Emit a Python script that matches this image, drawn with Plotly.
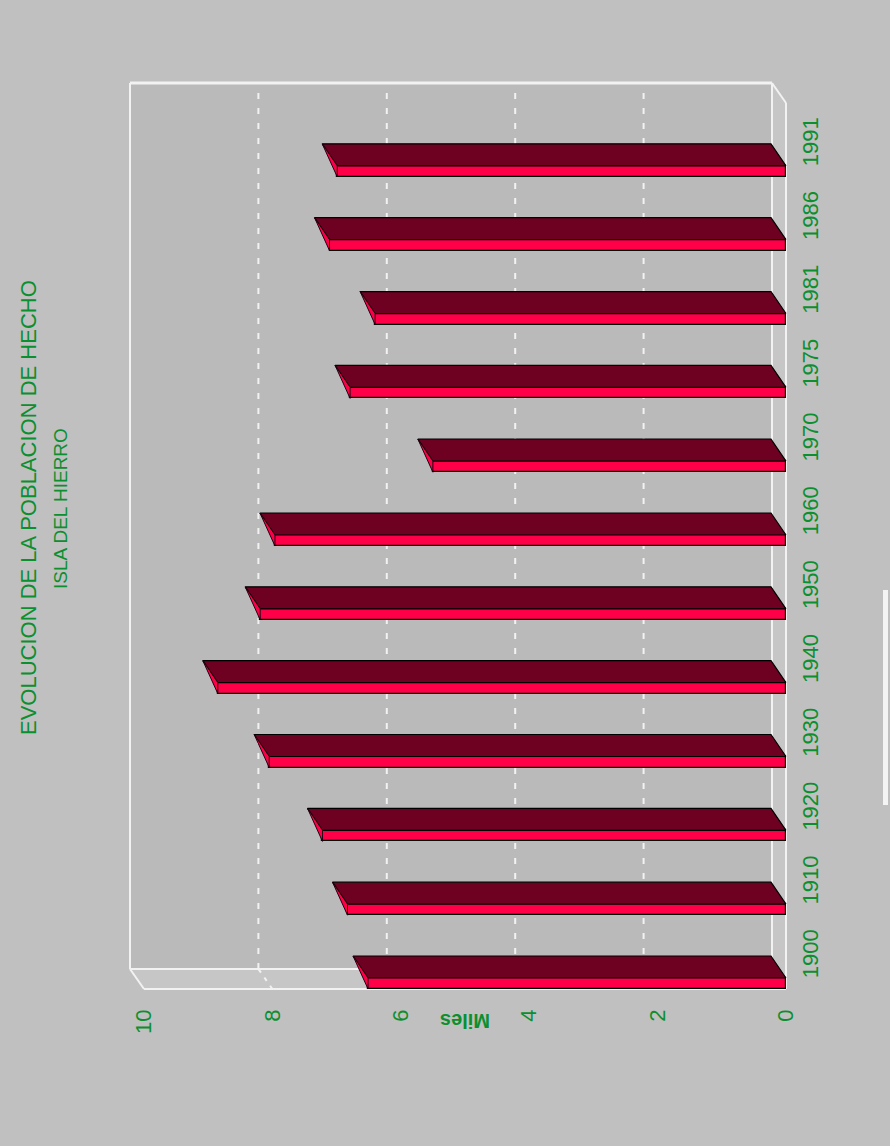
import plotly.graph_objects as go

# ---- data -------------------------------------------------------------
years = ["1900", "1910", "1920", "1930", "1940", "1950",
         "1960", "1970", "1975", "1981", "1986", "1991"]
miles = [6.51, 6.83, 7.22, 8.05, 8.85, 8.19, 7.96, 5.50, 6.79, 6.40, 7.11, 6.99]
value_ticks = [0, 2, 4, 6, 8, 10]
grid_values = [2, 4, 6, 8]
title_text = "EVOLUCION DE LA POBLACION DE HECHO"
subtitle_text = "ISLA DEL HIERRO"
value_axis_title = "Miles"

# ---- geometry (pixels) ------------------------------------------------
W, H = 890, 1146
L_PX, R_PX, T_PX, B_PX = 100, 790, 70, 1000      # plotting area
ZERO_PX = 786          # value 0 on the front plane
PX_PER_VAL = 64.2
FLOOR_PX = 989         # front edge of the category axis
PX_PER_CAT = 73.83

def val_from_px(px):
    return px / PX_PER_VAL

def cat_from_px(px):
    return px / PX_PER_CAT

x_range = [(ZERO_PX - L_PX) / PX_PER_VAL, (ZERO_PX - R_PX) / PX_PER_VAL]
y_range = [(FLOOR_PX - B_PX) / PX_PER_CAT, (FLOOR_PX - T_PX) / PX_PER_CAT]

BOX_DX, BOX_DY = val_from_px(14), cat_from_px(20)   # depth of the box
BAR_DX, BAR_DY = val_from_px(15), cat_from_px(22)   # depth of each bar
FACE_H = cat_from_px(11)                            # thickness of bar front
LABEL_POS = 0.5 - cat_from_px(5)                    # year label within band
VMAX = value_ticks[-1]
NCAT = len(years)

def px_to_paper_x(px):
    return (px - L_PX) / (R_PX - L_PX)

def px_to_paper_y(py):
    return (B_PX - py) / (B_PX - T_PX)

# ---- colours & fonts --------------------------------------------------
BG = "#C0C0C0"
WALL = "#BABABA"
SIDE = "#C6C6C6"
EDGE = "#F2F2F2"
FRONT_RED = "#FF0048"
TOP_DARK = "#6E0022"
GREEN = "#0B8F2F"
FONT = "Liberation Sans, Arial, sans-serif"

shapes = []

def poly(points, fill, line_color=None, width=0):
    path = "M " + " L ".join(f"{x},{y}" for x, y in points) + " Z"
    shapes.append(dict(type="path", path=path, xref="x", yref="y",
                       fillcolor=fill, layer="below",
                       line=dict(color=line_color or fill, width=width)))

def seg(x0, y0, x1, y1, color=EDGE, width=2, dash="solid"):
    shapes.append(dict(type="line", x0=x0, y0=y0, x1=x1, y1=y1,
                       xref="x", yref="y", layer="below",
                       line=dict(color=color, width=width, dash=dash)))

# back wall, right-hand floor strip and bottom strip
poly([(BOX_DX, BOX_DY), (VMAX + BOX_DX, BOX_DY),
      (VMAX + BOX_DX, NCAT + BOX_DY), (BOX_DX, NCAT + BOX_DY)], WALL)
poly([(0, 0), (BOX_DX, BOX_DY), (BOX_DX, NCAT + BOX_DY), (0, NCAT)], SIDE)
poly([(0, 0), (VMAX, 0), (VMAX + BOX_DX, BOX_DY), (BOX_DX, BOX_DY)], SIDE)

# dashed grid on the back wall and across the bottom strip
for v in grid_values:
    seg(v + BOX_DX, BOX_DY, v + BOX_DX, NCAT + BOX_DY, dash="6px,9px")
    seg(v, 0, v + BOX_DX, BOX_DY, dash="4px,6px")

# box edges
seg(VMAX + BOX_DX, BOX_DY, VMAX + BOX_DX, NCAT + BOX_DY)
seg(VMAX + BOX_DX, NCAT + BOX_DY, BOX_DX, NCAT + BOX_DY, width=3)
seg(BOX_DX, BOX_DY, BOX_DX, NCAT + BOX_DY)
seg(BOX_DX, BOX_DY, VMAX + BOX_DX, BOX_DY)
seg(0, 0, VMAX, 0)
seg(0, 0, 0, NCAT)
seg(VMAX, 0, VMAX + BOX_DX, BOX_DY)
seg(0, NCAT, BOX_DX, NCAT + BOX_DY)
seg(0, 0, BOX_DX, BOX_DY)

# scanner streak at the right margin
shapes.append(dict(type="rect", xref="paper", yref="paper",
                   x0=px_to_paper_x(883), x1=px_to_paper_x(888),
                   y0=px_to_paper_y(805), y1=px_to_paper_y(590),
                   fillcolor="#F4F4F4", line=dict(width=0), layer="above"))

fig = go.Figure()

# front faces of the bars
fig.add_trace(go.Bar(
    orientation="h",
    x=miles,
    y=[i + FACE_H / 2 for i in range(NCAT)],
    base=0,
    width=FACE_H,
    marker=dict(color=FRONT_RED, line=dict(color="#000000", width=1.2)),
    hoverinfo="skip",
    showlegend=False,
))

# top faces (parallelograms receding into the box)
tx, ty = [], []
for i, v in enumerate(miles):
    yt = i + FACE_H
    for px_, py_ in [(0, yt), (v, yt), (v + BAR_DX, yt + BAR_DY),
                     (BAR_DX, yt + BAR_DY), (0, yt)]:
        tx.append(px_)
        ty.append(py_)
    tx.append(None)
    ty.append(None)
fig.add_trace(go.Scatter(
    x=tx, y=ty, mode="lines", fill="toself", fillcolor=TOP_DARK,
    line=dict(color="#000000", width=1.2), hoverinfo="skip", showlegend=False,
))

# end faces at the tip of each bar
sx, sy = [], []
for i, v in enumerate(miles):
    for px_, py_ in [(v + BAR_DX, i + FACE_H + BAR_DY), (v, i + FACE_H),
                     (v, i), (v + BAR_DX, i + FACE_H + BAR_DY)]:
        sx.append(px_)
        sy.append(py_)
    sx.append(None)
    sy.append(None)
fig.add_trace(go.Scatter(
    x=sx, y=sy, mode="lines", fill="toself", fillcolor=FRONT_RED,
    line=dict(color="#200010", width=1), hoverinfo="skip", showlegend=False,
))

fig.update_layout(
    width=W, height=H,
    margin=dict(l=L_PX, r=W - R_PX, t=T_PX, b=H - B_PX, pad=0),
    paper_bgcolor=BG, plot_bgcolor=BG,
    shapes=shapes,
    bargap=0,
    xaxis=dict(range=x_range, showgrid=False, zeroline=False, showline=False,
               tickmode="array", tickvals=value_ticks,
               ticktext=[str(t) for t in value_ticks],
               tickangle=-90, ticks="", ticklabelstandoff=4,
               tickfont=dict(family=FONT, size=22, color=GREEN),
               fixedrange=True),
    yaxis=dict(range=y_range, side="right", showgrid=False, zeroline=False,
               showline=False, tickmode="array",
               tickvals=[i + LABEL_POS for i in range(NCAT)], ticktext=years,
               tickangle=-90, ticks="", ticklabelstandoff=5,
               tickfont=dict(family=FONT, size=22, color=GREEN),
               fixedrange=True),
    annotations=[
        dict(text=title_text, textangle=-90, showarrow=False,
             xref="paper", yref="paper",
             x=px_to_paper_x(28), y=px_to_paper_y(508),
             xanchor="center", yanchor="middle",
             font=dict(family=FONT, size=22, color=GREEN)),
        dict(text=subtitle_text, textangle=-90, showarrow=False,
             xref="paper", yref="paper",
             x=px_to_paper_x(60), y=px_to_paper_y(509),
             xanchor="center", yanchor="middle",
             font=dict(family=FONT, size=19, color=GREEN)),
        dict(text="<b>" + value_axis_title + "</b>", textangle=180,
             showarrow=False, xref="paper", yref="paper",
             x=px_to_paper_x(465), y=px_to_paper_y(1021),
             xanchor="center", yanchor="middle",
             font=dict(family=FONT, size=20, color=GREEN)),
    ],
)

fig.write_html("out.html")
